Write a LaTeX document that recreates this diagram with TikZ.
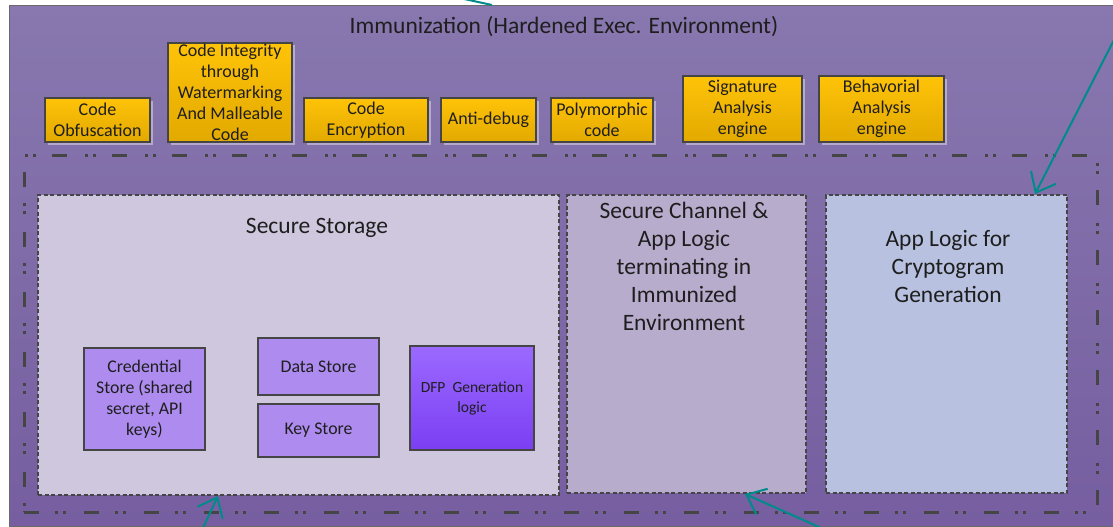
\documentclass[tikz,border=0pt]{standalone}
\usepackage{fontspec}
\setmainfont{Carlito}
\usetikzlibrary{arrows.meta,calc,shadows}

\definecolor{envtop}{HTML}{8878AF}
\definecolor{envbot}{HTML}{765EA0}
\definecolor{edgegray}{HTML}{454545}
\definecolor{inktext}{HTML}{1E1E1E}
\definecolor{goldtop}{HTML}{FFC308}
\definecolor{goldbot}{HTML}{E2A900}
\definecolor{storefill}{HTML}{CFC7DE}
\definecolor{chanfill}{HTML}{B8ACCD}
\definecolor{cryptfill}{HTML}{B8C1E0}
\definecolor{lilac}{HTML}{AE8CEF}
\definecolor{violettop}{HTML}{9B69FF}
\definecolor{violetbot}{HTML}{7B3FF2}
\definecolor{teal}{HTML}{008B8B}

\begin{document}
\begin{tikzpicture}[x=1pt,y=-1pt,
  every node/.style={text=inktext, inner sep=0pt},
  technique/.style={draw=edgegray, line width=1.1pt, top color=goldtop, bottom color=goldbot,
    align=center, font=\fontsize{18}{21}\selectfont,
    drop shadow={shadow xshift=2.5pt, shadow yshift=-2.5pt, fill=white, opacity=0.4}},
  zone/.style={draw=edgegray, line width=2pt, dash pattern=on 4pt off 2.5pt, anchor=north west},
  store/.style={draw=edgegray, line width=1.2pt, fill=lilac, align=center,
    font=\fontsize{17.8}{21}\selectfont},
  zonetext/.style={align=center, font=\fontsize{23.5}{28}\selectfont},
  pointer/.style={draw=teal, line width=2pt, -{Straight Barb[length=17pt,width=28pt,line width=2pt]}}
]
\useasboundingbox (0,0) rectangle (1113,527);

% hardened execution environment
\node (env) [draw=edgegray!80, line width=1.2pt, top color=envtop, bottom color=envbot,
  minimum width=1111pt, minimum height=521pt, anchor=north west] at (9,5) {};
\node (title) [font=\fontsize{23.5}{28}\selectfont] at (564,27) {Immunization (Hardened Exec. Environment)};

% hardening techniques
\node (obf) [technique, minimum width=105pt, minimum height=44pt] at (97.5,120) {Code\\Obfuscation};
\node (integ) [technique, minimum width=124pt, minimum height=99pt] at (230,92.5) {Code Integrity\\through\\Watermarking\\And Malleable\\Code};
\node (enc) [technique, minimum width=124pt, minimum height=44pt] at (366,120) {Code\\Encryption};
\node (antidbg) [technique, minimum width=95pt, minimum height=44pt] at (488.5,120) {Anti-debug};
\node (poly) [technique, minimum width=102pt, minimum height=44pt] at (602,120) {Polymorphic\\code};
\node (sig) [technique, minimum width=119pt, minimum height=66pt] at (742.5,109) {Signature\\Analysis\\engine};
\node (behav) [technique, minimum width=125pt, minimum height=66pt] at (881.5,109) {Behavorial\\Analysis\\engine};

% immunized region
\node (frame) [draw=edgegray, line width=2.8pt,
  dash pattern=on 15pt off 16pt on 3pt off 5pt on 3pt off 18pt,
  minimum width=1073pt, minimum height=357pt, anchor=north west] at (23,154) {};

\node (ss) [zone, fill=storefill, minimum width=521pt, minimum height=300pt] at (37,194) {};
\node (sstitle) [font=\fontsize{23.5}{28}\selectfont] at (317,228) {Secure Storage};

\node (sc) [zone, fill=chanfill, minimum width=239pt, minimum height=298pt] at (566,194) {};
\node (sctext) [zonetext] at (684,266) {Secure Channel \&\\App Logic\\terminating in\\Immunized\\Environment};

\node (al) [zone, fill=cryptfill, minimum width=241pt, minimum height=298pt] at (825,194) {};
\node (altext) [zonetext] at (948,266) {App Logic for\\Cryptogram\\Generation};

% stores
\node (cred) [store, minimum width=121pt, minimum height=102pt] at (144.5,399) {Credential\\Store (shared\\secret, API\\keys)};
\node (data) [store, minimum width=121pt, minimum height=57pt] at (318.5,366.5) {Data Store};
\node (key) [store, minimum width=121pt, minimum height=53pt] at (318.5,430.5) {Key Store};
\node (dfp) [store, top color=violettop, bottom color=violetbot, minimum width=124pt, minimum height=104pt,
  font=\fontsize{15.5}{20}\selectfont] at (472,398) {DFP~~Generation\\logic};

% pointers
\coordinate (ptop) at (455,-3);
\coordinate (pright) at (1118,32);
\coordinate (pleft) at (201,532);
\coordinate (pmid) at (828,531);
\draw [draw=teal, line width=2pt] (ptop) -- ($(env.north west)+(483,0)$);
\draw [pointer] (pright) -- ($(al.north east)+(-33,0)$);
\draw [pointer] (pleft) -- ($(ss.south west)+(181,0)$);
\draw [pointer] (pmid) -- ($(sc.south west)+(179,0)$);
\end{tikzpicture}
\end{document}
